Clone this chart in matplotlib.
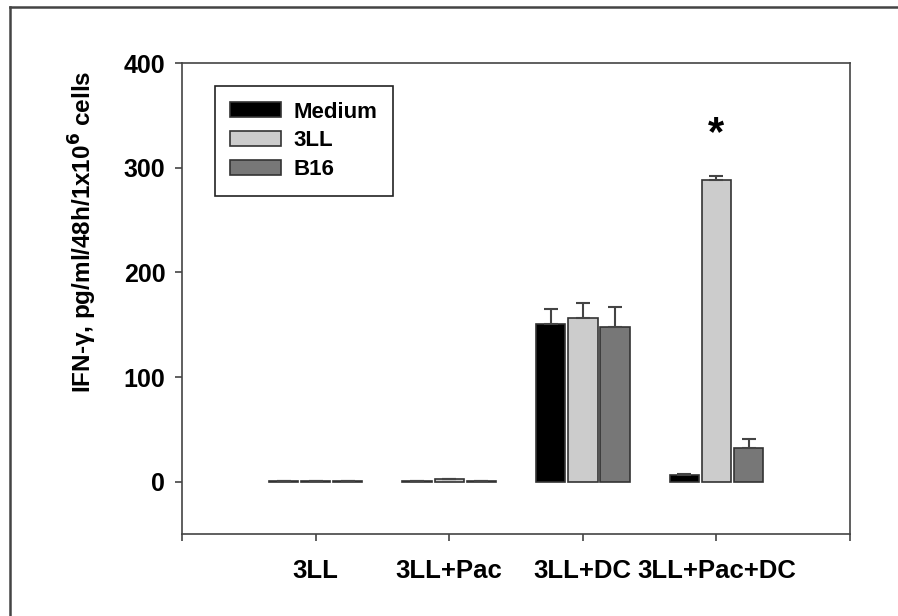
"""IFN-gamma production bar chart (Medium / 3LL / B16 restimulation)."""

import matplotlib

matplotlib.use("Agg", force=True)
import matplotlib.pyplot as plt
from matplotlib.lines import Line2D
import numpy as np

plt.rcParams["font.family"] = ["Liberation Sans", "DejaVu Sans"]
plt.rcParams["font.weight"] = "bold"

groups = ["3LL", "3LL+Pac", "3LL+DC", "3LL+Pac+DC"]
series = ["Medium", "3LL", "B16"]
medium_vals = [0.4, 0.4, 151, 6]
ll3_vals = [0.4, 2.5, 156, 288]
b16_vals = [0.4, 0.4, 148, 32]
medium_err = [0, 0, 14, 1.5]
ll3_err = [0, 0.5, 15, 4]
b16_err = [0, 0, 19, 8.5]

colors = ["#000000", "#cccccc", "#777777"]
edge = "#333333"

fig = plt.figure(figsize=(8.98, 6.16), dpi=100)
ax = fig.add_axes([0.2027, 0.1331, 0.7439, 0.7646])

x = np.arange(1, len(groups) + 1)
width = 0.22
offset = 0.24
for i, (vals, errs) in enumerate(zip([medium_vals, ll3_vals, b16_vals],
                                     [medium_err, ll3_err, b16_err])):
    errs = np.array(errs)
    ax.bar(x + (i - 1) * offset, vals, width, color=colors[i], edgecolor=edge,
           linewidth=1.2, label=series[i],
           yerr=[np.zeros_like(errs), errs],
           error_kw=dict(ecolor="#444444", elinewidth=1.5, capsize=5, capthick=1.5))

# significance marker above the 3LL+Pac+DC group
ax.text(4, 332, "*", ha="center", va="center", fontsize=30, fontweight="bold")

ax.set_xlim(0, 5)
ax.set_ylim(-50, 400)
ax.set_yticks([0, 100, 200, 300, 400])
ax.set_xticks(x)
ax.set_xticklabels(groups)
ax.set_xticks([0, 5], minor=True)
ax.tick_params(axis="both", direction="out", length=5, width=1.2, color="#444444",
               labelsize=18, pad=7)
ax.tick_params(axis="x", which="minor", length=5, width=1.2, color="#444444")
ax.tick_params(axis="x", labelsize=18.5, pad=13)
for sp in ax.spines.values():
    sp.set_color("#444444")
    sp.set_linewidth(1.2)

fig.text(83 / 898, 1 - 232 / 616, "IFN-\u03b3, pg/ml/48h/1x10$^{\\mathbf{6}}$ cells",
         rotation=90, ha="center", va="center", fontsize=17.5, fontweight="bold")

leg = ax.legend(loc="upper left", bbox_to_anchor=(0.049, 0.951), borderaxespad=0,
                fontsize=16, fancybox=False, framealpha=1, edgecolor="#222222",
                handlelength=2.3, handleheight=0.65, handletextpad=0.55,
                labelspacing=0.35, borderpad=0.7)
leg.get_frame().set_linewidth(1.2)

# outer frame (only top and left edges are visible in the source)
fig.add_artist(Line2D([10 / 898, 1], [1 - 7 / 616, 1 - 7 / 616], color="#444444", lw=1.8))
fig.add_artist(Line2D([10 / 898, 10 / 898], [0, 1 - 7 / 616], color="#444444", lw=1.8))

fig.savefig("out.png", dpi=100)
